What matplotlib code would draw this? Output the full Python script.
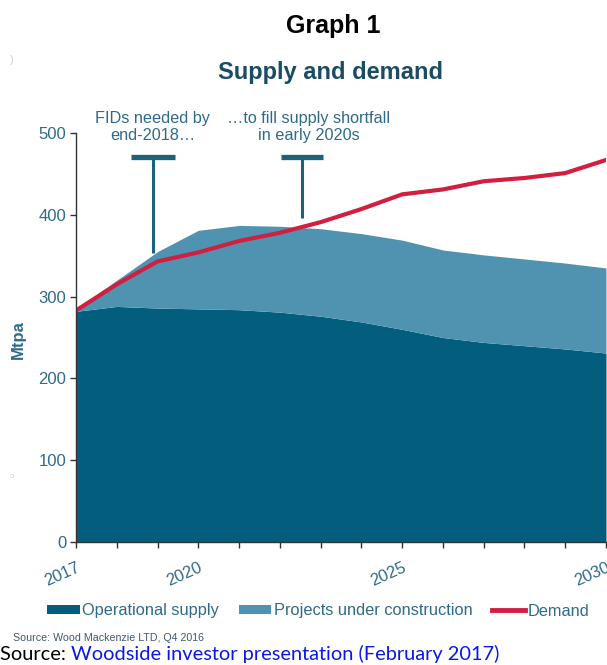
import matplotlib
matplotlib.use("Agg")
import matplotlib.pyplot as plt
from matplotlib.patches import Patch
from matplotlib.lines import Line2D

plt.rcParams['font.family'] = ['Liberation Sans', 'DejaVu Sans']

# Wood Mackenzie outlook, Mtpa
years = [2017, 2018, 2019, 2020, 2021, 2022, 2023, 2024, 2025, 2026, 2027, 2028, 2029, 2030]
operational = [282, 288, 286, 285, 284, 281, 276, 269, 260, 250, 244, 240, 236, 231]
total_supply = [285, 320, 355, 381, 387, 386, 383, 377, 369, 357, 351, 346, 341, 335]
demand = [283, 315, 343, 354, 368, 378, 391, 407, 425, 431, 441, 445, 451, 467]
shown_year_labels = {2017: "2017", 2020: "2020", 2025: "2025", 2030: "2030"}
y_ticks = [0, 100, 200, 300, 400, 500]

DARK = '#035e7e'
LIGHT = '#4f93b0'
RED = '#d21f40'
TEAL_TXT = '#2f6a88'
MARK = '#1b6378'

fig = plt.figure(figsize=(6.07, 6.65), dpi=100)
ax = fig.add_axes([76 / 607, 1 - 542 / 665, (606 - 76) / 607, (542 - 133) / 665])

ax.fill_between(years, 0, operational, color=DARK, linewidth=0, zorder=2)
ax.fill_between(years, operational, total_supply, color=LIGHT, linewidth=0, zorder=2)
ax.plot(years, demand, color=RED, linewidth=3.0, solid_joinstyle='round', zorder=4)

ax.set_xlim(2017, 2030)
ax.set_ylim(0, 500)

ax.set_xticks(years)
ax.set_xticklabels([shown_year_labels.get(y, "") for y in years],
                   rotation=24, ha='right', rotation_mode='anchor')
ax.set_yticks(y_ticks)
ax.tick_params(axis='both', direction='out', length=4, width=1.0, color='#333333',
               labelcolor=TEAL_TXT, labelsize=12)
ax.tick_params(axis='x', pad=9)
ax.tick_params(axis='y', pad=3)
for s in ('top', 'right'):
    ax.spines[s].set_visible(False)
for s in ('left', 'bottom'):
    ax.spines[s].set_color('#333333')
    ax.spines[s].set_linewidth(1.0)
    ax.spines[s].set_zorder(5)

# T-shaped callouts
def callout(x, y_top, y_bottom, half_width):
    ax.plot([x, x], [y_top, y_bottom], color=MARK, linewidth=2.2, clip_on=False, zorder=6,
            solid_capstyle='butt')
    ax.plot([x - half_width, x + half_width], [y_top, y_top], color=MARK, linewidth=3.8,
            clip_on=False, zorder=6, solid_capstyle='butt')

callout(2018.88, 471, 353, 0.54)
callout(2022.55, 471, 396, 0.52)

ax.text(2018.88, 507, "FIDs needed by\nend-2018\u2026", ha='center', va='center',
        fontsize=11.7, color=TEAL_TXT, linespacing=1.2, clip_on=False)
ax.text(2022.71, 507, "\u2026to fill supply shortfall\nin early 2020s", ha='center', va='center',
        fontsize=11.7, color=TEAL_TXT, linespacing=1.2, clip_on=False)

fig.text(0.03, 1 - 340 / 665, "Mtpa", rotation=90, ha='center', va='center',
         fontsize=12, color=TEAL_TXT, fontweight='bold')

fig.text(333 / 607, 1 - 26 / 665, "Graph 1", ha='center', va='center',
         fontsize=18, fontweight='bold', color='black')
fig.text(331 / 607, 1 - 72 / 665, "Supply and demand", ha='center', va='center',
         fontsize=17, fontweight='bold', color='#1a4c62')

handles = [Patch(facecolor=DARK, edgecolor='none'),
           Patch(facecolor=LIGHT, edgecolor='none'),
           Line2D([0], [0], color=RED, linewidth=3.5)]
fig.legend(handles, ["Operational supply", "Projects under construction", "Demand"],
           loc='center', bbox_to_anchor=(318 / 607, 1 - 611 / 665), ncol=3, frameon=False,
           fontsize=11.8, labelcolor=TEAL_TXT, handlelength=2.0, handleheight=0.5,
           handletextpad=0.15, columnspacing=1.2, borderpad=0)

fig.text(13 / 607, 1 - 638 / 665, "Source: Wood Mackenzie LTD, Q4 2016", ha='left', va='center',
         fontsize=7.7, color='#3d5a6a')

src = fig.text(0.0, 1 - 654 / 665, "Source: ", ha='left', va='center',
               fontsize=14.4, color='black', family=['Lato', 'DejaVu Sans'])
link = fig.text(0.1, 1 - 654 / 665, "Woodside investor presentation (February 2017)",
                ha='left', va='center', fontsize=14.4, color='#0a18e8',
                family=['Lato', 'DejaVu Sans'])
fig.canvas.draw()
bb = src.get_window_extent()
link.set_position((bb.x1 / fig.bbox.width, 1 - 654 / 665))

# faint scan marks at the left margin
fig.text(12 / 607, 1 - 60 / 665, ")", ha='center', va='center', fontsize=8, color='#d0d0d0')
fig.text(12 / 607, 1 - 476 / 665, "\u0254", ha='center', va='center', fontsize=6, color='#d0d0d0')

fig.savefig("out.png", dpi=100)
